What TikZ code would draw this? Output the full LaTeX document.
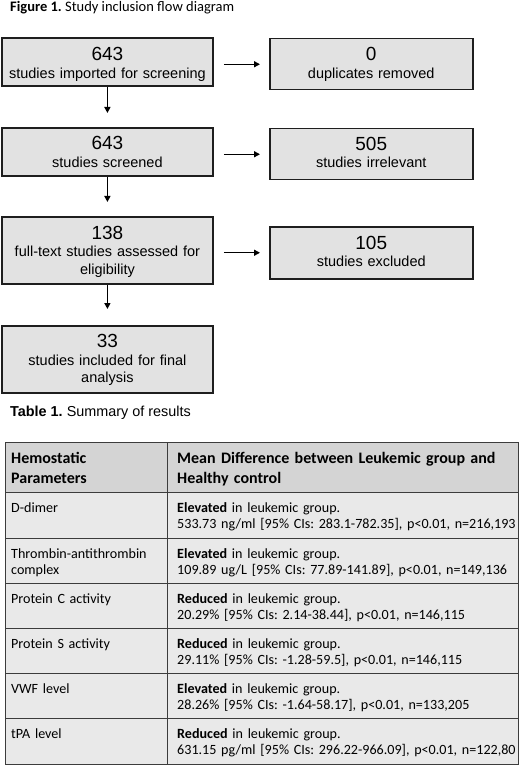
\documentclass[tikz,border=0pt]{standalone}
\usepackage{fontspec}
\setmainfont{Carlito}
\newfontfamily\arialf{Liberation Sans}
\usetikzlibrary{arrows.meta}
\frenchspacing
\definecolor{boxfill}{RGB}{226,226,226}
\definecolor{boxline}{RGB}{30,30,30}
\definecolor{headfill}{RGB}{212,212,212}
\definecolor{bodyfill}{RGB}{233,233,233}
\definecolor{tabline}{RGB}{60,60,60}
\newcommand{\numf}{\fontsize{19}{17.5}\selectfont}
\tikzset{
  flowbox/.style={draw=boxline, line width=1.8pt, fill=boxfill, inner sep=0pt, anchor=north west},
  sidebox/.style={draw=boxline, line width=1.5pt, fill=boxfill, inner sep=0pt, anchor=north west},
  boxtext/.style={anchor=base, align=center, inner sep=0pt, font=\arialf\fontsize{14.5}{17.5}\selectfont},
  arr/.style={line width=1.4pt, draw=black, -{Triangle[length=6pt,width=6pt]}},
  headcell/.style={draw=tabline, line width=1.3pt, fill=headfill, inner sep=0pt, anchor=north west},
  bodycell/.style={draw=tabline, line width=1.3pt, fill=bodyfill, inner sep=0pt, anchor=north west},
  headtext/.style={anchor=base west, align=left, inner sep=0pt, font=\frenchspacing\fontsize{16}{20.5}\selectfont\bfseries},
  celltext/.style={anchor=base west, align=left, inner sep=0pt, font=\frenchspacing\fontsize{14.1}{16.5}\selectfont},
  caption/.style={anchor=base west, inner sep=0pt}
}
\begin{document}
\begin{tikzpicture}[x=1pt,y=-1pt]
\useasboundingbox[fill=white] (0,0) rectangle (520,767);
% Figure title
\node[caption, font=\fontsize{14.5}{17}\selectfont] (figtitle) at (10,12) {\textbf{Figure 1.} Study inclusion flow diagram};
% Left flow boxes
\node[flowbox, minimum width=211pt, minimum height=48pt] (B1) at (1,37) {};
\node[flowbox, minimum width=211pt, minimum height=48pt] (B2) at (1,127) {};
\node[flowbox, minimum width=211pt, minimum height=67pt] (B3) at (1,216) {};
\node[flowbox, minimum width=211pt, minimum height=67pt] (B4) at (1,325) {};
% Right boxes
\node[sidebox, minimum width=203pt, minimum height=51pt] (R1) at (269,38) {};
\node[sidebox, minimum width=203pt, minimum height=51pt] (R2) at (269,128) {};
\node[sidebox, minimum width=203pt, minimum height=52pt] (R3) at (269,226) {};
% Box texts
\node[boxtext, text width=205pt] (B1t) at ([yshift=-24pt]B1.north) {{\numf 643}\\studies imported for screening};
\node[boxtext, text width=205pt] (B2t) at ([yshift=-23pt]B2.north) {{\numf 643}\\studies screened};
\node[boxtext, text width=205pt] (B3t) at ([yshift=-23pt]B3.north) {{\numf 138}\\full-text studies assessed for\\eligibility};
\node[boxtext, text width=205pt] (B4t) at ([yshift=-22.5pt]B4.north) {{\numf 33}\\studies included for final\\analysis};
\node[boxtext, text width=195pt] (R1t) at ([yshift=-23pt]R1.north) {{\numf 0}\\duplicates removed};
\node[boxtext, text width=195pt] (R2t) at ([yshift=-22.5pt]R2.north) {{\numf 505}\\studies irrelevant};
\node[boxtext, text width=195pt] (R3t) at ([yshift=-23pt]R3.north) {{\numf 105}\\studies excluded};
% Arrows
\draw[arr] (B1.south) -- ([yshift=14pt]B2.north);
\draw[arr] (B2.south) -- ([yshift=14pt]B3.north);
\draw[arr] (B3.south) -- ([yshift=16pt]B4.north);
\draw[arr] ([xshift=10pt]B1.east |- R1.west) -- ([xshift=-9pt]R1.west);
\draw[arr] ([xshift=10pt]B2.east |- R2.west) -- ([xshift=-9pt]R2.west);
\draw[arr] ([xshift=10pt]B3.east |- R3.west) -- ([xshift=-9pt]R3.west);
% Table caption
\node[caption, font=\arialf\fontsize{14.4}{17}\selectfont] (tabtitle) at (10,416) {\textbf{Table 1.} Summary of results};
% Table cells
\node[headcell, minimum width=162pt, minimum height=50pt] (H1) at (5,442) {};
\node[headcell, minimum width=351pt, minimum height=50pt] (H2) at (167,442) {};
\node[bodycell, minimum width=162pt, minimum height=46pt] (A1) at (5,492) {};
\node[bodycell, minimum width=351pt, minimum height=46pt] (A2) at (167,492) {};
\node[bodycell, minimum width=162pt, minimum height=45pt] (C1) at (5,538) {};
\node[bodycell, minimum width=351pt, minimum height=45pt] (C2) at (167,538) {};
\node[bodycell, minimum width=162pt, minimum height=45pt] (D1) at (5,583) {};
\node[bodycell, minimum width=351pt, minimum height=45pt] (D2) at (167,583) {};
\node[bodycell, minimum width=162pt, minimum height=45pt] (E1) at (5,628) {};
\node[bodycell, minimum width=351pt, minimum height=45pt] (E2) at (167,628) {};
\node[bodycell, minimum width=162pt, minimum height=45pt] (F1) at (5,673) {};
\node[bodycell, minimum width=351pt, minimum height=45pt] (F2) at (167,673) {};
\node[bodycell, minimum width=162pt, minimum height=46pt] (G1) at (5,718) {};
\node[bodycell, minimum width=351pt, minimum height=46pt] (G2) at (167,718) {};
% Table texts
\node[headtext, text width=150pt] (H1t) at ([xshift=6pt,yshift=-21pt]H1.north west) {Hemostatic\\Parameters};
\node[headtext, text width=400pt] (H2t) at ([xshift=10pt,yshift=-21pt]H2.north west) {Mean Difference between Leukemic group and\\Healthy control};
\node[celltext, text width=150pt] (A1t) at ([xshift=6pt,yshift=-20pt]A1.north west) {D-dimer};
\node[celltext, text width=400pt] (A2t) at ([xshift=10pt,yshift=-20pt]A2.north west) {\textbf{Elevated} in leukemic group.\\533.73 ng/ml [95\% CIs: 283.1-782.35], p<0.01, n=216,193};
\node[celltext, text width=150pt] (C1t) at ([xshift=6pt,yshift=-20pt]C1.north west) {Thrombin-antithrombin\\complex};
\node[celltext, text width=400pt] (C2t) at ([xshift=10pt,yshift=-20pt]C2.north west) {\textbf{Elevated} in leukemic group.\\109.89 ug/L [95\% CIs: 77.89-141.89], p<0.01, n=149,136};
\node[celltext, text width=150pt] (D1t) at ([xshift=6pt,yshift=-20pt]D1.north west) {Protein C activity};
\node[celltext, text width=400pt] (D2t) at ([xshift=10pt,yshift=-20pt]D2.north west) {\textbf{Reduced} in leukemic group.\\20.29\% [95\% CIs: 2.14-38.44], p<0.01, n=146,115};
\node[celltext, text width=150pt] (E1t) at ([xshift=6pt,yshift=-20pt]E1.north west) {Protein S activity};
\node[celltext, text width=400pt] (E2t) at ([xshift=10pt,yshift=-20pt]E2.north west) {\textbf{Reduced} in leukemic group.\\29.11\% [95\% CIs: -1.28-59.5], p<0.01, n=146,115};
\node[celltext, text width=150pt] (F1t) at ([xshift=6pt,yshift=-20pt]F1.north west) {VWF level};
\node[celltext, text width=400pt] (F2t) at ([xshift=10pt,yshift=-20pt]F2.north west) {\textbf{Elevated} in leukemic group.\\28.26\% [95\% CIs: -1.64-58.17], p<0.01, n=133,205};
\node[celltext, text width=150pt] (G1t) at ([xshift=6pt,yshift=-20pt]G1.north west) {tPA level};
\node[celltext, text width=400pt] (G2t) at ([xshift=10pt,yshift=-20pt]G2.north west) {\textbf{Reduced} in leukemic group.\\631.15 pg/ml [95\% CIs: 296.22-966.09], p<0.01, n=122,80};
\end{tikzpicture}
\end{document}
